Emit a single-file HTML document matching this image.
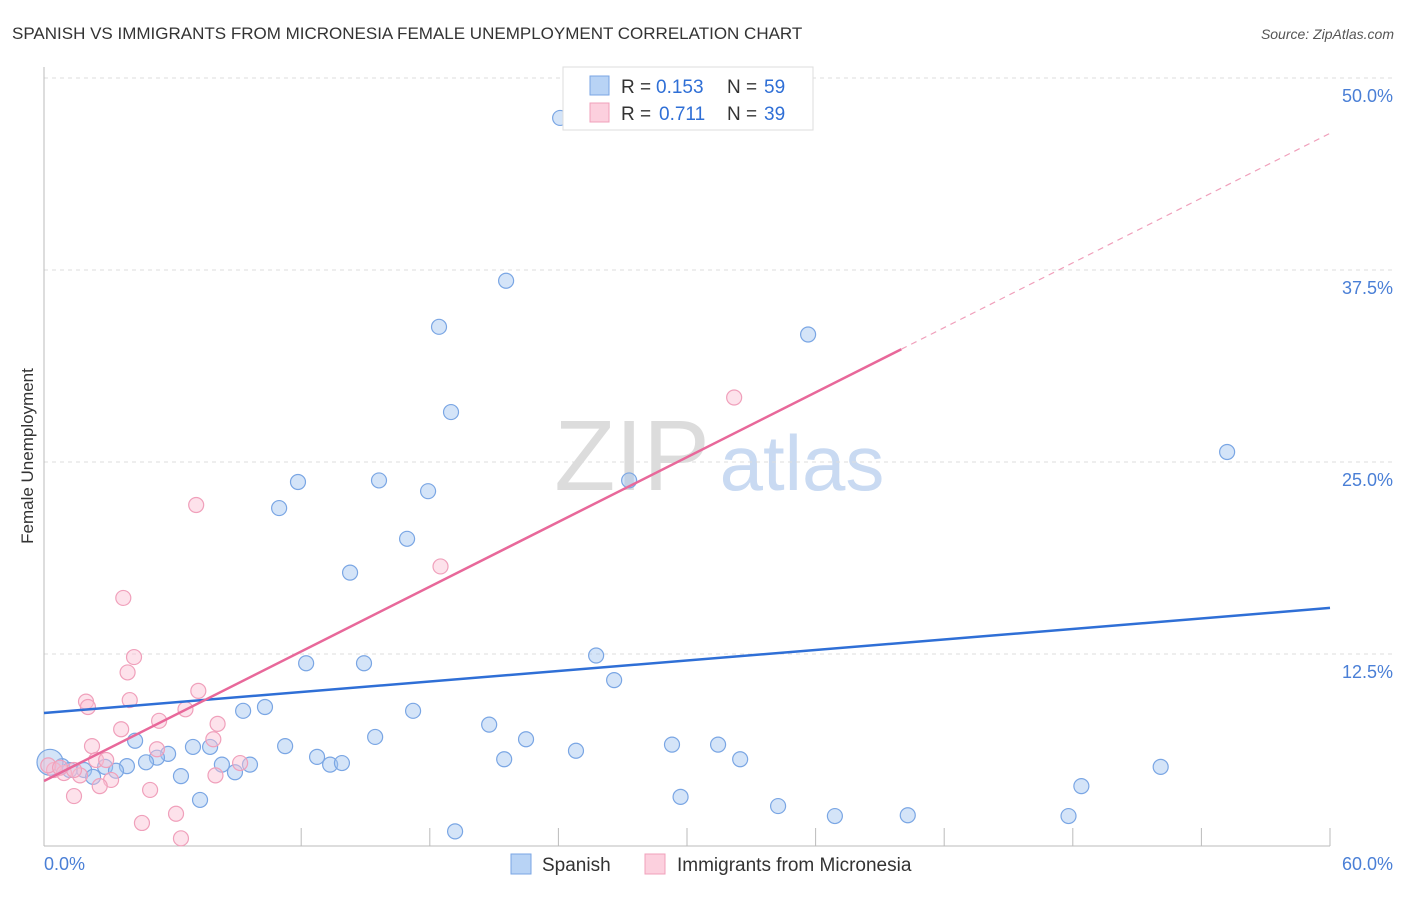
<!DOCTYPE html>
<html><head><meta charset="utf-8">
<style>
body{margin:0;background:#fff;font-family:"Liberation Sans",sans-serif;}
svg text{font-family:"Liberation Sans",sans-serif;}
</style></head>
<body>
<svg id="chart" width="1406" height="892" xmlns="http://www.w3.org/2000/svg">
<text x="12" y="39" font-size="17" fill="#333">SPANISH VS IMMIGRANTS FROM MICRONESIA FEMALE UNEMPLOYMENT CORRELATION CHART</text>
<text x="1394" y="39" font-size="14" fill="#555" font-style="italic" text-anchor="end">Source: ZipAtlas.com</text>
<text transform="translate(33,456) rotate(-90)" font-size="17" fill="#333" text-anchor="middle">Female Unemployment</text>
<g>
<text x="632" y="490" font-size="100" fill="#dcdcdc" text-anchor="middle" font-family="Liberation Serif">ZIP</text>
<text x="802" y="490" font-size="78" fill="#c9daf2" text-anchor="middle">atlas</text>
</g>
<g id="grid"></g><g id="marks"></g><g id="lines"></g>
<g>
<rect x="563" y="67" width="250" height="63" fill="#fff" stroke="#ddd"/>
<rect x="590" y="76" width="19" height="19" fill="#b8d3f5" stroke="#7aa6e4"/>
<text x="621" y="93" font-size="19" fill="#333">R =</text>
<text x="656" y="93" font-size="19" fill="#2f6fd6">0.153</text>
<text x="727" y="93" font-size="19" fill="#333">N =</text>
<text x="764" y="93" font-size="19" fill="#2f6fd6">59</text>
<rect x="590" y="103" width="19" height="19" fill="#fcd0de" stroke="#f0a0bb"/>
<text x="621" y="120" font-size="19" fill="#333">R =</text>
<text x="659" y="120" font-size="19" fill="#2f6fd6">0.711</text>
<text x="727" y="120" font-size="19" fill="#333">N =</text>
<text x="764" y="120" font-size="19" fill="#2f6fd6">39</text>
</g>
<g>
<rect x="511" y="854" width="20" height="20" fill="#b8d3f5" stroke="#7aa6e4"/>
<text x="542" y="871" font-size="19" fill="#333">Spanish</text>
<rect x="645" y="854" width="20" height="20" fill="#fcd0de" stroke="#f0a0bb"/>
<text x="677" y="871" font-size="19" fill="#333">Immigrants from Micronesia</text>
</g>
</svg>
<script>
const blueX=[24.08,21.56,18.43,35.65,18.99,55.2,11.85,15.63,17.92,27.3,10.97,16.94,14.28,12.23,14.93,25.76,26.6,10.31,9.29,17.22,20.77,15.45,22.49,4.25,6.95,7.75,11.25,24.82,29.3,31.45,5.79,5.27,4.76,12.74,21.47,32.48,13.35,13.9,8.3,9.61,8.91,3.87,2.85,3.36,6.39,0.84,1.87,2.29,52.1,48.4,29.7,7.28,34.25,36.9,40.3,47.8,19.18,0.28,1.2];
const blueY=[47.4,36.8,33.8,33.3,28.25,25.65,23.7,23.8,23.1,23.8,22.0,20.0,17.8,11.9,11.9,12.4,10.8,9.05,8.8,8.8,7.9,7.1,6.95,6.85,6.45,6.45,6.5,6.2,6.6,6.6,6.0,5.75,5.45,5.8,5.65,5.65,5.3,5.4,5.3,5.3,4.8,5.2,5.15,4.9,4.55,5.2,4.95,4.5,5.15,3.9,3.2,3.0,2.6,1.95,2.0,1.95,0.95,5.45,4.95];
const pinkX=[32.2,7.1,18.5,3.7,4.2,3.9,7.2,4.0,1.96,2.05,6.6,5.37,8.1,3.6,7.9,2.24,5.27,2.43,2.9,9.15,0.47,0.93,1.68,1.4,3.13,2.6,8.0,4.95,1.4,6.16,4.57,6.39,0.2,0.75];
const pinkY=[29.2,22.2,18.2,16.15,12.3,11.3,10.1,9.5,9.4,9.05,8.9,8.15,7.95,7.6,6.95,6.5,6.3,5.6,5.6,5.4,4.95,4.75,4.6,4.95,4.3,3.9,4.6,3.65,3.25,2.1,1.5,0.5,5.25,5.1];
const yTicks=[12.5,25,37.5,50];
const yTickLabels=["12.5%","25.0%","37.5%","50.0%"];
const xTicks=[0,12,18,24,30,36,42,48,54,60];
const blueLine=[8.66,15.5];
const pinkLine=[4.23,46.4];
const pinkSolidEnd=40;
const X=v=>44+v/60*1286, Y=v=>846-v/50*768;
const NS="http://www.w3.org/2000/svg";
function mk(tag,attrs,parent){const e=document.createElementNS(NS,tag);for(const k in attrs)e.setAttribute(k,attrs[k]);parent.appendChild(e);return e;}
const grid=document.getElementById('grid'),marks=document.getElementById('marks'),lines=document.getElementById('lines');
yTicks.forEach((t,i)=>{
 const g=mk('line',{x1:44,x2:1394,y1:Y(t),y2:Y(t),stroke:'#ddd','stroke-dasharray':'4,4'},grid);
 
 
 const l=mk('text',{x:1393,y:Y(t)+24,'font-size':18,fill:'#4a7fd6','text-anchor':'end'},grid);
 l.textContent=yTickLabels[i];
 
 
});
const ax=mk('line',{x1:44,x2:1330,y1:846,y2:846,stroke:'#bbb'},grid);


const ay=mk('line',{x1:44,x2:44,y1:67,y2:846,stroke:'#bbb'},grid);


xTicks.forEach(t=>{
 const k=mk('line',{x1:X(t),x2:X(t),y1:828,y2:846,stroke:'#bbb'},grid);
 
 
});
const xl0=mk('text',{x:44,y:870,'font-size':18,fill:'#4a7fd6'},grid);xl0.textContent="0.0%";


const xl1=mk('text',{x:1393,y:870,'font-size':18,fill:'#4a7fd6','text-anchor':'end'},grid);xl1.textContent="60.0%";


blueX.forEach((v,i)=>{
 const c=mk('circle',{cx:X(v),cy:Y(blueY[i]),r:i==57?13:7.5,fill:'rgba(160,196,240,0.45)',stroke:'#7aa6e4','stroke-width':1.2},marks);
 
 
});
pinkX.forEach((v,i)=>{
 const c=mk('circle',{cx:X(v),cy:Y(pinkY[i]),r:7.5,fill:'rgba(250,190,210,0.45)',stroke:'#f0a0bb','stroke-width':1.2},marks);
 
 
});
const bl=mk('line',{x1:X(0),y1:Y(blueLine[0]),x2:X(60),y2:Y(blueLine[1]),stroke:'#2f6fd6','stroke-width':2.5},lines);


const pm=pinkLine[0]+(pinkLine[1]-pinkLine[0])*pinkSolidEnd/60;
const pl=mk('line',{x1:X(0),y1:Y(pinkLine[0]),x2:X(pinkSolidEnd),y2:Y(pm),stroke:'#e8689a','stroke-width':2.5},lines);


const pd=mk('line',{x1:X(pinkSolidEnd),y1:Y(pm),x2:X(60),y2:Y(pinkLine[1]),stroke:'#f0a0bb','stroke-width':1.2,'stroke-dasharray':'6,5'},lines);


</script>
</body></html>
